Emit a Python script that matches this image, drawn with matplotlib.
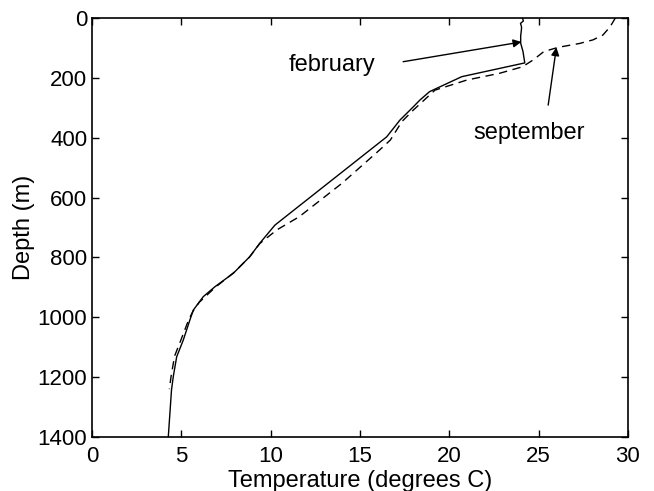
import numpy as np
import matplotlib
matplotlib.use('Agg')
import matplotlib.pyplot as plt

plt.rcParams['font.family'] = ['Liberation Sans', 'DejaVu Sans']

# february profile (solid)
feb_depth = [0, 10, 18, 30, 40, 60, 84, 112, 150, 196, 246, 274, 302, 341, 397,
             692, 752, 797, 853, 898, 931, 976, 1009, 1076, 1132, 1198, 1243, 1400]
feb_temp = [24.1, 24.15, 23.99, 24.05, 24.04, 24.0, 24.0, 24.13, 24.23, 20.7, 18.9,
            18.36, 17.9, 17.24, 16.5, 10.24, 9.4, 8.84, 7.91, 6.88, 6.23, 5.67,
            5.48, 5.11, 4.74, 4.55, 4.45, 4.27]

# september profile (dashed)
sep_depth = [0, 30, 57, 73, 85, 98, 112, 140, 163, 185, 207, 241, 307, 346, 408,
             441, 552, 664, 708, 753, 800, 850, 900, 950, 980, 1010, 1080, 1130,
             1200, 1240]
sep_temp = [29.3, 29.0, 28.6, 28.05, 27.3, 26.1, 25.3, 24.7, 24.1, 22.8, 21.0,
            19.2, 18.0, 17.35, 16.7, 16.1, 14.0, 11.6, 10.35, 9.4, 8.8, 7.95,
            6.9, 6.0, 5.65, 5.4, 4.95, 4.62, 4.42, 4.33]

fig = plt.figure(figsize=(6.54, 4.91), dpi=100)
ax = fig.add_axes([0.1407, 0.110, 0.8193, 0.8533])

ax.plot(feb_temp, feb_depth, color='black', lw=1.0)
ax.plot(sep_temp, sep_depth, color='black', lw=1.0, linestyle=(0, (6, 4)))

ax.set_xlim(0, 30)
ax.set_ylim(1400, 0)
ax.set_xticks(np.arange(0, 31, 5))
ax.set_yticks(np.arange(0, 1401, 200))
ax.tick_params(direction='in', top=True, right=True, length=5, width=1,
               labelsize=16)
ax.tick_params(axis='x', pad=6.5)
ax.tick_params(axis='y', pad=3.5)
for s in ax.spines.values():
    s.set_linewidth(1.2)

ax.set_xlabel('Temperature (degrees C)', fontsize=17, labelpad=2)
ax.set_ylabel('Depth (m)', fontsize=17, labelpad=2)

arrow = dict(arrowstyle='-|>', color='black', lw=1.0, mutation_scale=12,
             shrinkA=0, shrinkB=0)
ax.annotate('', xy=(24.04, 80), xytext=(17.42, 146), arrowprops=arrow)
ax.text(13.43, 157, 'february', fontsize=17, ha='center', va='center')
ax.annotate('', xy=(26.0, 98), xytext=(25.54, 291), arrowprops=arrow)
ax.text(24.45, 384, 'september', fontsize=17, ha='center', va='center')

fig.savefig('out.png', dpi=100)
